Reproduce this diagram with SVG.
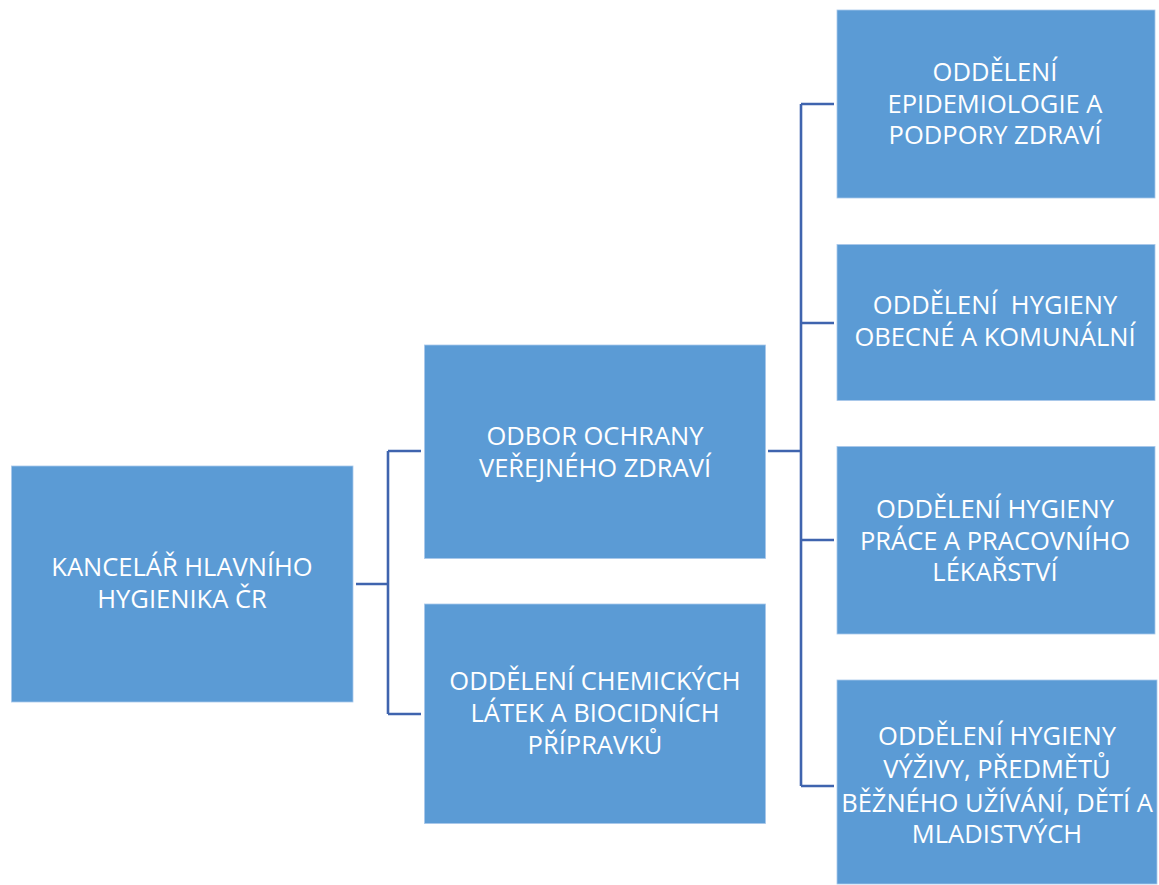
<svg xmlns="http://www.w3.org/2000/svg" width="1159" height="885" viewBox="0 0 1159 885">
<style>
.box{fill:#5B9BD5;stroke:#A9C8EA;stroke-width:0.8}
.t{font-family:"Open Sans","Noto Sans",sans-serif;font-size:25.5px;fill:#FFFFFF;text-anchor:middle}
.c{fill:none;stroke:#3F64AE;stroke-width:2.6}
</style>
<rect width="1159" height="885" fill="#FFFFFF"/>
<g id="connectors">
<path class="c" d="M356 584 H388 M388 451 V714 M388 451 H421 M388 714 H421"/>
<path class="c" d="M768 451 H801 M801 104 V786 M801 104 H834 M801 323 H834 M801 540 H834 M801 786 H834"/>
</g>
<g id="n1"><rect class="box" x="11.5" y="466" width="341.5" height="236"/>
<text class="t" x="182" y="576">KANCELÁŘ HLAVNÍHO</text><text class="t" x="182" y="608">HYGIENIKA ČR</text></g>
<g id="n2"><rect class="box" x="424.5" y="345" width="341" height="213.5"/>
<text class="t" x="595" y="445">ODBOR OCHRANY</text><text class="t" x="595" y="477">VEŘEJNÉHO ZDRAVÍ</text></g>
<g id="n3"><rect class="box" x="424.5" y="604" width="341" height="219.5"/>
<text class="t" x="595" y="690">ODDĚLENÍ CHEMICKÝCH</text><text class="t" x="595" y="722">LÁTEK A BIOCIDNÍCH</text><text class="t" x="595" y="754">PŘÍPRAVKŮ</text></g>
<g id="n4"><rect class="box" x="837" y="10" width="318" height="188"/>
<text class="t" x="995" y="81">ODDĚLENÍ</text><text class="t" x="995" y="113">EPIDEMIOLOGIE A</text><text class="t" x="995" y="144">PODPORY ZDRAVÍ</text></g>
<g id="n5"><rect class="box" x="837" y="244.5" width="318" height="156"/>
<text class="t" x="995" y="314" xml:space="preserve">ODDĚLENÍ  HYGIENY</text><text class="t" x="995" y="346">OBECNÉ A KOMUNÁLNÍ</text></g>
<g id="n6"><rect class="box" x="837" y="446.5" width="318" height="187.5"/>
<text class="t" x="995" y="518">ODDĚLENÍ HYGIENY</text><text class="t" x="995" y="550">PRÁCE A PRACOVNÍHO</text><text class="t" x="995" y="581">LÉKAŘSTVÍ</text></g>
<g id="n7"><rect class="box" x="837" y="680" width="320" height="204"/>
<text class="t" x="997" y="745">ODDĚLENÍ HYGIENY</text><text class="t" x="997" y="778">VÝŽIVY, PŘEDMĚTŮ</text><text class="t" x="997" y="812">BĚŽNÉHO UŽÍVÁNÍ, DĚTÍ A</text><text class="t" x="997" y="843">MLADISTVÝCH</text></g>
</svg>
